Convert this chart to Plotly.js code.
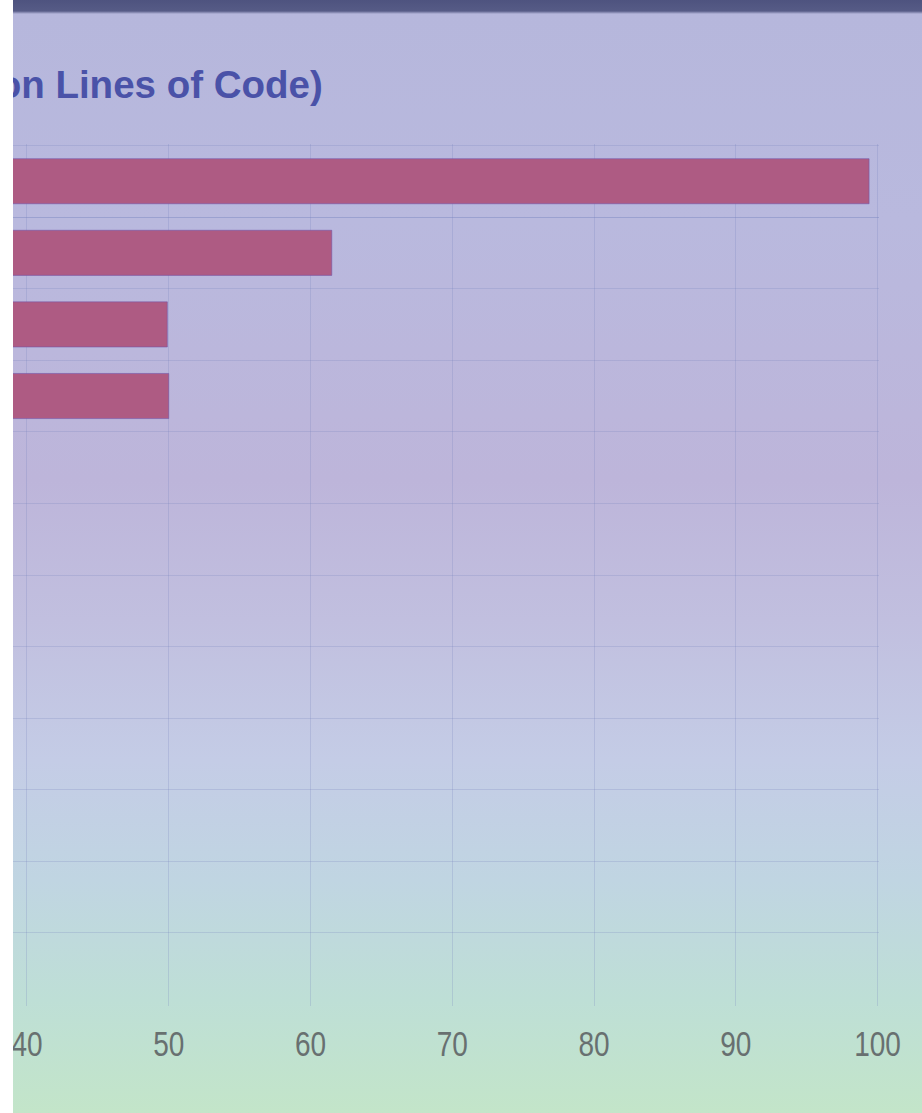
<!DOCTYPE html>
<html><head><meta charset="utf-8">
<script src="https://cdn.plot.ly/plotly-3.0.1.min.js"></script>
<style>
html,body{margin:0;padding:0;background:#ffffff;width:922px;height:1113px;overflow:hidden}
#chart{position:absolute;left:13px;top:0;width:909px;height:1113px;
background:linear-gradient(to bottom,#4e537f 0px,#565b86 11px,#b6b7dc 14px,#b9b9de 220px,#bdb5da 480px,#c1bfdf 620px,#c4cce6 760px,#c0d5e2 880px,#bedfd6 1000px,#c3e5c9 1113px);}
</style></head><body><div id="chart"></div>
<script>
// Categories (labels are cropped out of the reference picture)
const categories = ["Item 1","Item 2","Item 3","Item 4","Item 5","Item 6","Item 7","Item 8","Item 9","Item 10","Item 11","Item 12"];
// Million lines of code (only the bars reaching past 40 are visible)
const values = [99.4, 61.5, 49.9, 50.0, null, null, null, null, null, null, null, null];
const xTickVals = [40, 50, 60, 70, 80, 90, 100];
const xTickText = ["40", "50", "60", "70", "80", "90", "100"];
const titleText = "(Million Lines of Code)";

const trace = {
  type: "bar",
  orientation: "h",
  x: values,
  y: categories,
  marker: {color: "#ae5b83", line: {color: "rgba(112,84,170,0.55)", width: 1}},
  hoverinfo: "none"
};

const gridCol = "rgba(118,128,188,0.24)";
const layout = {
  width: 909, height: 1113,
  margin: {l: 0, r: 43, t: 144, b: 107},
  paper_bgcolor: "rgba(0,0,0,0)",
  plot_bgcolor: "rgba(0,0,0,0)",
  showlegend: false,
  bargap: 0.37,
  xaxis: {
    range: [39.013, 100.1],
    tickmode: "array", tickvals: xTickVals, ticktext: xTickText,
    showgrid: true, gridcolor: gridCol, gridwidth: 1,
    zeroline: false, showline: false, ticks: "",
    ticklabelstandoff: 14,
    ticklabeloverflow: "allow",
    tickfont: {family: "'Liberation Sans', Arial, sans-serif", size: 35, color: "#687070"}
  },
  yaxis: {
    type: "category",
    range: [11.52, -0.52],
    tickson: "boundaries",
    showgrid: true, gridcolor: gridCol, gridwidth: 1,
    showticklabels: false, ticks: "", zeroline: false, showline: false
  },
  annotations: [{
    text: "<b>" + titleText + "</b>",
    xref: "paper", yref: "paper",
    x: 0.3605, y: 1.0695, xanchor: "right", yanchor: "middle",
    showarrow: false,
    font: {family: "'Liberation Sans', Arial, sans-serif", size: 38.5, color: "#4a52a8"}
  }]
};

Plotly.newPlot("chart", [trace], layout, {staticPlot: true, displayModeBar: false}).then(function (gd) {
  // the reference tick digits are narrow: condense them horizontally
  const sx = 0.8;
  gd.querySelectorAll(".xtick text").forEach(function (el) {
    const x = parseFloat(el.getAttribute("x") || "0");
    el.setAttribute("x", String(x / sx));
    const t = el.getAttribute("transform") || "";
    el.setAttribute("transform", t + " scale(" + sx + ",1)");
  });
});
</script></body></html>
